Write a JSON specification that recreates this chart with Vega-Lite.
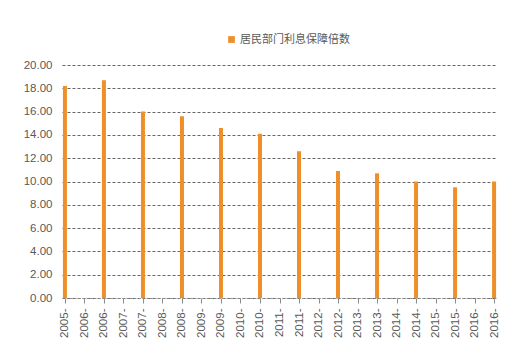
{
  "$schema": "https://vega.github.io/schema/vega-lite/v6.json",
  "width": 435,
  "height": 233,
  "autosize": {"type": "none"},
  "padding": {"left": 62, "top": 65, "right": 35, "bottom": 62},
  "background": "white",
  "config": {
    "view": {"stroke": null},
    "font": "Noto Sans CJK SC"
  },
  "data": {
    "values": [
      {"period": "2005-12", "series": "居民部门利息保障倍数", "value": 18.2},
      {"period": "2006-06", "series": "居民部门利息保障倍数", "value": null},
      {"period": "2006-12", "series": "居民部门利息保障倍数", "value": 18.7},
      {"period": "2007-06", "series": "居民部门利息保障倍数", "value": null},
      {"period": "2007-12", "series": "居民部门利息保障倍数", "value": 16.0},
      {"period": "2008-06", "series": "居民部门利息保障倍数", "value": null},
      {"period": "2008-12", "series": "居民部门利息保障倍数", "value": 15.6},
      {"period": "2009-06", "series": "居民部门利息保障倍数", "value": null},
      {"period": "2009-12", "series": "居民部门利息保障倍数", "value": 14.6},
      {"period": "2010-06", "series": "居民部门利息保障倍数", "value": null},
      {"period": "2010-12", "series": "居民部门利息保障倍数", "value": 14.1},
      {"period": "2011-06", "series": "居民部门利息保障倍数", "value": null},
      {"period": "2011-12", "series": "居民部门利息保障倍数", "value": 12.6},
      {"period": "2012-06", "series": "居民部门利息保障倍数", "value": null},
      {"period": "2012-12", "series": "居民部门利息保障倍数", "value": 10.9},
      {"period": "2013-06", "series": "居民部门利息保障倍数", "value": null},
      {"period": "2013-12", "series": "居民部门利息保障倍数", "value": 10.7},
      {"period": "2014-06", "series": "居民部门利息保障倍数", "value": null},
      {"period": "2014-12", "series": "居民部门利息保障倍数", "value": 10.0},
      {"period": "2015-06", "series": "居民部门利息保障倍数", "value": null},
      {"period": "2015-12", "series": "居民部门利息保障倍数", "value": 9.5},
      {"period": "2016-06", "series": "居民部门利息保障倍数", "value": null},
      {"period": "2016-12", "series": "居民部门利息保障倍数", "value": 10.0}
    ]
  },
  "mark": {"type": "bar", "width": 4},
  "encoding": {
    "x": {
      "field": "period",
      "type": "ordinal",
      "sort": null,
      "scale": {
        "type": "point",
        "padding": 0.15,
        "domain": ["2005-12","2006-06","2006-12","2007-06","2007-12","2008-06","2008-12","2009-06","2009-12","2010-06","2010-12","2011-06","2011-12","2012-06","2012-12","2013-06","2013-12","2014-06","2014-12","2015-06","2015-12","2016-06","2016-12"]
      },
      "axis": {
        "title": null,
        "labelAngle": -90,
        "labelExpr": "slice(datum.value, 0, 5)",
        "labelFont": "Liberation Sans",
        "labelFontSize": 11.5,
        "labelColor": "#595959",
        "labelPadding": 5,
        "domainColor": "#8c8c8c",
        "domainDash": [2, 2],
        "tickColor": "#8c8c8c",
        "tickSize": 5,
        "grid": false
      }
    },
    "y": {
      "field": "value",
      "type": "quantitative",
      "scale": {"domain": [0, 20], "nice": false},
      "axis": {
        "title": null,
        "values": [0, 2, 4, 6, 8, 10, 12, 14, 16, 18, 20],
        "format": ".2f",
        "labelFont": "Liberation Sans",
        "labelFontSize": 11.5,
        "labelColor": "#595959",
        "labelPadding": 10,
        "domain": false,
        "ticks": false,
        "grid": true,
        "gridColor": "#666666",
        "gridDash": [3, 2],
        "gridWidth": 1
      }
    },
    "color": {
      "field": "series",
      "type": "nominal",
      "scale": {"range": ["#EE8F2A"]},
      "legend": {
        "title": null,
        "orient": "none",
        "legendX": 164,
        "legendY": -31,
        "symbolType": "square",
        "symbolSize": 45,
        "labelFontSize": 11,
        "labelOffset": 3,
        "labelColor": "#595959",
        "labelFont": "Noto Sans CJK SC"
      }
    }
  }
}
